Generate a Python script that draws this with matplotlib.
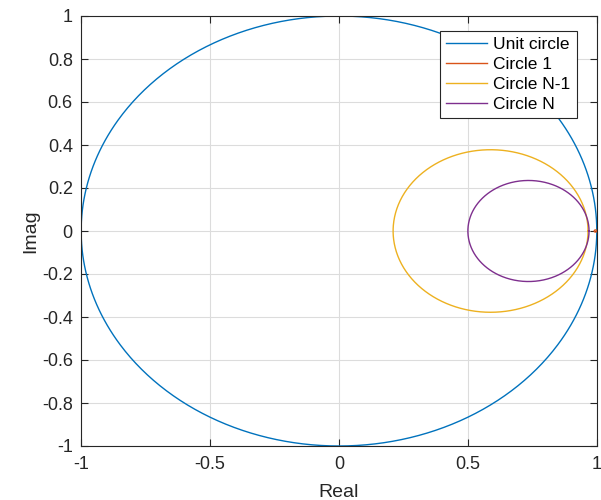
import numpy as np
import matplotlib
matplotlib.use("Agg")
import matplotlib.pyplot as plt

plt.rcParams['font.family'] = ['Liberation Sans', 'DejaVu Sans']

# circles: label, center (real axis), radius
labels = ['Unit circle', 'Circle 1', 'Circle N-1', 'Circle N']
centers = [0.0, 0.995, 0.588, 0.735]
radii = [1.0, 0.005, 0.378, 0.235]
colors = ['#0072BD', '#D95319', '#EDB120', '#7E2F8E']

xticks = [-1, -0.5, 0, 0.5, 1]
xticklabels = ['-1', '-0.5', '0', '0.5', '1']
yticks = [-1, -0.8, -0.6, -0.4, -0.2, 0, 0.2, 0.4, 0.6, 0.8, 1]
yticklabels = ['-1', '-0.8', '-0.6', '-0.4', '-0.2', '0', '0.2', '0.4', '0.6', '0.8', '1']

fig = plt.figure(figsize=(6.01, 5.0), dpi=100)
ax = fig.add_axes([0.135, 0.108, 0.858, 0.86])

th = np.linspace(0, 2 * np.pi, 721)
for lab, c, r, col in zip(labels, centers, radii, colors):
    ax.plot(c + r * np.cos(th), r * np.sin(th), color=col, linewidth=1.0, label=lab)

ax.set_xlim(-1, 1)
ax.set_ylim(-1, 1)
ax.set_xticks(xticks)
ax.set_xticklabels(xticklabels)
ax.set_yticks(yticks)
ax.set_yticklabels(yticklabels)
ax.tick_params(direction='in', top=True, right=True, labelsize=13, length=5,
               width=0.8, color='#262626', labelcolor='#262626', pad=6)
ax.tick_params(axis='x', pad=7)
ax.grid(True, color='#dcdcdc', linewidth=0.8)
ax.set_axisbelow(True)
for s in ax.spines.values():
    s.set_color('#262626')
    s.set_linewidth(0.8)

ax.set_xlabel('Real', fontsize=14, color='#262626', labelpad=8)
ax.set_ylabel('Imag', fontsize=14, color='#262626', labelpad=2)

leg = ax.legend(loc='upper right', bbox_to_anchor=(0.961, 0.965), borderaxespad=0,
                fontsize=12.5, fancybox=False, framealpha=1,
                edgecolor='#262626', handlelength=2.4, handletextpad=0.35,
                borderpad=0.35, labelspacing=0.28)
leg.get_frame().set_linewidth(0.8)

fig.savefig('out.png', dpi=100)
